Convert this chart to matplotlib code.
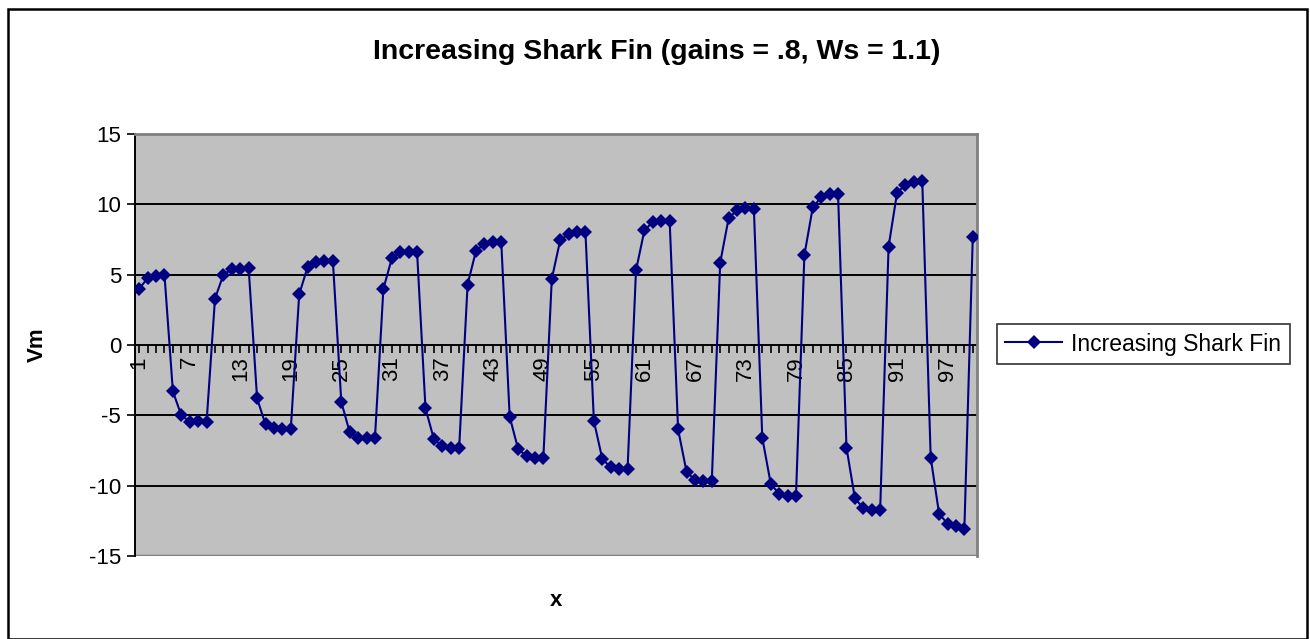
import matplotlib
matplotlib.use("Agg")
import numpy as np
from matplotlib import pyplot as plt
from matplotlib.patches import Rectangle
from matplotlib.ticker import FixedLocator, MultipleLocator

plt.rcParams['font.family'] = ['Liberation Sans', 'DejaVu Sans']
plt.rcParams['axes.unicode_minus'] = False

# membrane potential per step, 100 samples
vm = [
    4.0, 4.75, 4.9, 5.0,
    -3.3, -5.0, -5.45, -5.4, -5.5,
    3.3, 5.0, 5.4, 5.4, 5.45,
    -3.8, -5.65, -5.9, -6.0, -6.0,
    3.6, 5.55, 5.9, 6.0, 6.0,
    -4.05, -6.2, -6.6, -6.6, -6.6,
    4.0, 6.15, 6.6, 6.6, 6.6,
    -4.5, -6.7, -7.2, -7.3, -7.3,
    4.3, 6.7, 7.2, 7.3, 7.3,
    -5.1, -7.4, -7.9, -8.0, -8.0,
    4.7, 7.45, 7.9, 8.0, 8.0,
    -5.4, -8.1, -8.7, -8.8, -8.8,
    5.3, 8.15, 8.75, 8.8, 8.8,
    -6.0, -9.0, -9.6, -9.7, -9.7,
    5.85, 9.0, 9.6, 9.75, 9.7,
    -6.6, -9.85, -10.6, -10.75, -10.75,
    6.4, 9.8, 10.5, 10.7, 10.7,
    -7.3, -10.9, -11.6, -11.7, -11.7,
    7.0, 10.8, 11.4, 11.6, 11.65,
    -8.0, -12.0, -12.7, -12.9, -13.1,
    7.7,
]
x = np.arange(1, len(vm) + 1)
x_labels = list(range(1, 101, 6))
y_ticks = [-15, -10, -5, 0, 5, 10, 15]

W, H = 1310, 639
fig = plt.figure(figsize=(W / 100, H / 100), dpi=100)

# outer chart border
fig.patches.append(Rectangle((8 / W, 0), 1299 / W, (H - 9) / H, transform=fig.transFigure,
                             fill=False, edgecolor="black", linewidth=1.8))

ax = fig.add_axes([135 / W, (H - 556) / H, (977 - 135) / W, (556 - 134) / H])
ax.set_facecolor("#c0c0c0")
ax.set_xlim(0.5, 100.5)
ax.set_ylim(-15, 15)

for v in [-10, -5, 5, 10]:
    ax.axhline(v, color="black", linewidth=1.4, zorder=1)

for side in ["top", "right"]:
    ax.spines[side].set_color("#808080")
    ax.spines[side].set_linewidth(2)
ax.spines["left"].set_color("black")
ax.spines["left"].set_linewidth(1.4)
ax.spines["bottom"].set_position(("data", 0))
ax.spines["bottom"].set_linewidth(1.4)
ax.spines["bottom"].set_zorder(2)

# gray plot-area bottom edge (bottom spine sits on the zero line)
ax.axhline(-15, color="#808080", linewidth=2.5, zorder=1)

ax.set_yticks(y_ticks)
ax.tick_params(axis="y", direction="out", length=6, width=1.2, labelsize=16, pad=4)

ax.xaxis.set_major_locator(FixedLocator(x_labels))
ax.xaxis.set_minor_locator(MultipleLocator(1))
ax.set_xticklabels([str(v) for v in x_labels], rotation=90, va="top", ha="center")
ax.tick_params(axis="x", which="both", direction="out", length=6, width=1.2, labelsize=16, pad=2)

ax.plot(x, vm, color="#000080", linewidth=1.5, marker="D", markersize=7,
        markeredgewidth=0, label="Increasing Shark Fin", zorder=3)

fig.text(657 / W, 1 - 52 / H, "Increasing Shark Fin (gains = .8, Ws = 1.1)",
         ha="center", va="center", fontsize=20.5, fontweight="bold")
fig.text(37 / W, 1 - 345 / H, "Vm", rotation=90, ha="center", va="center",
         fontsize=16, fontweight="bold")
fig.text(556 / W, 1 - 600 / H, "x", ha="center", va="center", fontsize=16, fontweight="bold")

leg = fig.legend(loc="center left", bbox_to_anchor=(997 / W, 1 - 344 / H), fontsize=16.5,
                 frameon=True, fancybox=False, borderpad=0.35, handlelength=2.5,
                 handletextpad=0.4, borderaxespad=0)
leg.get_frame().set_edgecolor("black")
leg.get_frame().set_linewidth(1.2)

fig.savefig("out.png", dpi=100)
